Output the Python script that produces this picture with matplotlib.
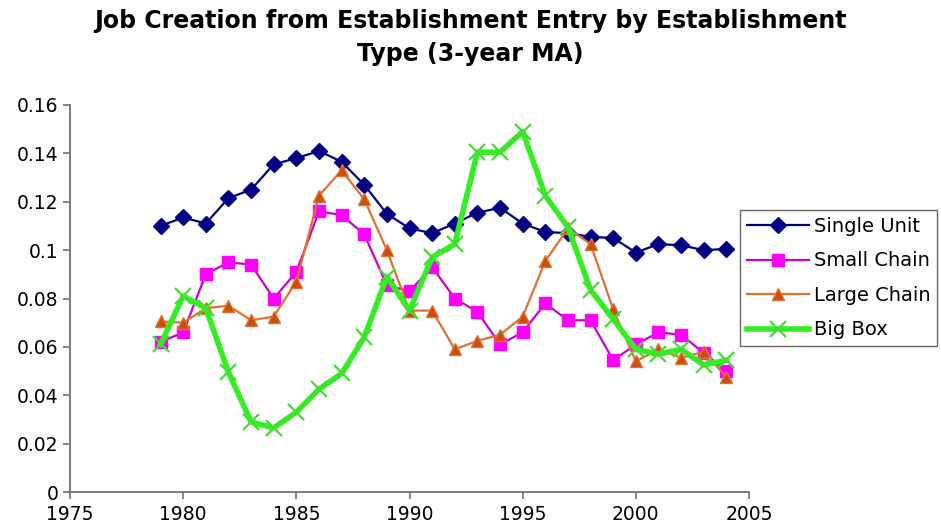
import numpy as np
import matplotlib
matplotlib.use('Agg')
from matplotlib import pyplot as plt

plt.rcParams['font.family'] = ['DejaVu Sans']

# Job creation rates from establishment entry, 3-year moving averages
years = list(range(1979, 2005))

single_unit = [0.110, 0.1135, 0.111, 0.1215, 0.125, 0.1355, 0.138, 0.141,
               0.1365, 0.127, 0.115, 0.109, 0.107, 0.111, 0.1155, 0.1175,
               0.111, 0.1075, 0.107, 0.1055, 0.105, 0.099, 0.1025, 0.102,
               0.100, 0.1005]

small_chain = [0.062, 0.066, 0.090, 0.095, 0.094, 0.080, 0.091, 0.116,
               0.1145, 0.1065, 0.0855, 0.083, 0.093, 0.080, 0.0745, 0.061,
               0.066, 0.078, 0.071, 0.071, 0.0545, 0.061, 0.066, 0.065,
               0.0575, 0.050]

large_chain = [0.0705, 0.070, 0.076, 0.077, 0.071, 0.0725, 0.087, 0.1225,
               0.133, 0.121, 0.100, 0.075, 0.075, 0.059, 0.0625, 0.065,
               0.0725, 0.0955, 0.109, 0.1025, 0.0755, 0.054, 0.059, 0.0555,
               0.058, 0.0475]

big_box = [0.061, 0.081, 0.076, 0.0495, 0.029, 0.0265, 0.033, 0.0425,
           0.049, 0.064, 0.089, 0.075, 0.097, 0.1025, 0.1405, 0.1405,
           0.149, 0.1225, 0.1095, 0.0835, 0.0715, 0.059, 0.057, 0.059,
           0.0525, 0.0545]

series_names = ['Single Unit', 'Small Chain', 'Large Chain', 'Big Box']

fig = plt.figure(figsize=(9.41, 5.26), dpi=100)
ax = fig.add_axes([0.0744, 0.0646, 0.7216, 0.7358])

ax.plot(years, single_unit, color='#000080', lw=1.6, marker='D',
        markersize=8, markerfacecolor='#000080', markeredgecolor='#000080',
        label=series_names[0])
ax.plot(years, small_chain, color='#CC00CC', lw=1.6, marker='s',
        markersize=8, markerfacecolor='#FF00FF', markeredgecolor='#FF00FF',
        label=series_names[1])
ax.plot(years, large_chain, color='#E07030', lw=1.6, marker='^',
        markersize=9, markerfacecolor='#C8500A', markeredgecolor='#E07030',
        label=series_names[2])
ax.plot(years, big_box, color='#33EE22', lw=4.0, marker='x',
        markersize=12, markeredgewidth=1.6, markeredgecolor='#44DD33',
        label=series_names[3])

ax.set_xlim(1975, 2005)
ax.set_ylim(0, 0.16)
ax.set_xticks(range(1975, 2006, 5))
ax.set_yticks(np.arange(0, 0.161, 0.02))
ax.set_yticklabels(['0', '0.02', '0.04', '0.06', '0.08', '0.1', '0.12',
                    '0.14', '0.16'])

for side in ['top', 'right']:
    ax.spines[side].set_visible(False)
for side in ['left', 'bottom']:
    ax.spines[side].set_color('#707070')
    ax.spines[side].set_linewidth(1.3)

ax.tick_params(axis='both', colors='#707070', labelcolor='black',
               labelsize=13.5, length=5, width=1.2)
ax.tick_params(axis='x', pad=4)

ax.legend(loc='upper left', bbox_to_anchor=(0.7864, 0.6008),
          bbox_transform=fig.transFigure, frameon=True,
          fancybox=False, edgecolor='#444444', fontsize=14,
          handlelength=3.2, handletextpad=0.25, borderpad=0.35,
          labelspacing=0.8, borderaxespad=0)

fig.text(0.5, 0.960, 'Job Creation from Establishment Entry by Establishment',
         ha='center', va='center', fontsize=17, fontweight='bold')
fig.text(0.5, 0.898, 'Type (3-year MA)',
         ha='center', va='center', fontsize=17, fontweight='bold')

plt.savefig('out.png', dpi=100)
